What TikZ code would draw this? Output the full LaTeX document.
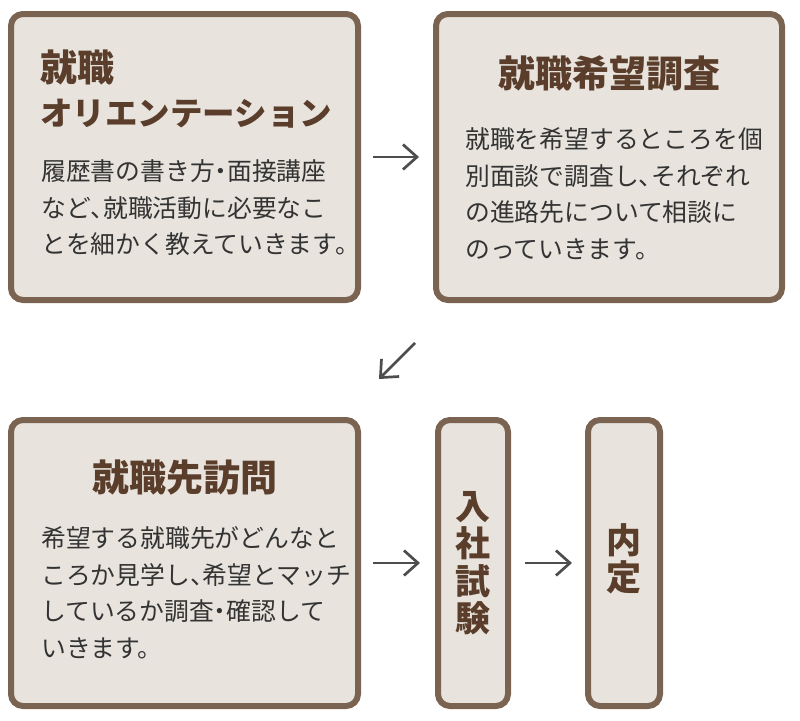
\documentclass[tikz,border=0pt]{standalone}
\usepackage{fontspec}
\setmainfont{Noto Sans CJK JP}
\newfontfamily\halffont[RawFeature=+halt]{Noto Sans CJK JP}
\newcommand\hw[1]{{\halffont #1}}
\usetikzlibrary{arrows.meta}
\definecolor{boxline}{HTML}{7A6350}
\definecolor{boxfill}{HTML}{E8E4DD}
\definecolor{titlebrown}{HTML}{5A3E2B}
\definecolor{bodygray}{HTML}{333333}
\definecolor{arrowgray}{HTML}{4D4D4D}

\begin{document}
\begin{tikzpicture}[x=1pt, y=-1pt,
  stepbox/.style={draw=boxline, fill=boxfill, line width=6pt, rounded corners=12pt, inner sep=0pt},
  titletext/.style={text=titlebrown, font=\fontsize{37}{45}\bfseries\selectfont, inner sep=0pt},
  bodytext/.style={text=bodygray, align=left, anchor=west, inner sep=0pt, font=\fontsize{24.8}{36.5}\selectfont},
  tatetext/.style={text=titlebrown, align=center, inner sep=0pt, font=\fontsize{35}{37.5}\bfseries\selectfont},
  flowarrow/.style={draw=arrowgray, line width=2.7pt, -{Straight Barb[length=14pt, width=25pt]}}]
  \useasboundingbox[fill=white] (0,0) rectangle (800,720);
  % boxes
  \node[stepbox, minimum width=347pt, minimum height=286pt] (orient) at (184.5,157) {};
  \node[stepbox, minimum width=346pt, minimum height=286pt] (survey) at (609,157) {};
  \node[stepbox, minimum width=347pt, minimum height=286pt] (visit)  at (184.5,563) {};
  \node[stepbox, minimum width=70pt,  minimum height=286pt] (exam)   at (473,563) {};
  \node[stepbox, minimum width=72pt,  minimum height=286pt] (naitei) at (624,563) {};
  % titles
  \node[titletext, anchor=west] (orienttitle) at (40,67) {就職};
  \node[titletext, anchor=west, font=\fontsize{32.5}{40}\bfseries\selectfont] (orienttitleb) at (40,114) {オリエンテーション};
  \node[titletext] (surveytitle) at (609,73) {就職希望調査};
  \node[titletext] (visittitle)  at (184.5,478) {就職先訪問};
  \node[tatetext] (examtext)   at (473,563) {入\\社\\試\\験};
  \node[tatetext] (naiteitext) at (624,559) {内\\定};
  % descriptions
  \node[bodytext] (orientbody) at (41,208) {履歴書の書き方\hw{・}面接講座\\など\hw{、}就職活動に必要なこ\\とを細かく教えていきます。};
  \node[bodytext] (surveybody) at (465,194) {就職を希望するところを個\\別面談で調査し\hw{、}それぞれ\\の進路先について相談に\\のっていきます。};
  \node[bodytext] (visitbody)  at (41,593) {希望する就職先がどんなと\\ころか見学し\hw{、}希望とマッチ\\しているか調査\hw{・}確認して\\いきます。};
  % arrows
  \draw[flowarrow] ([xshift=12pt]orient.east) -- ([xshift=-14pt]survey.west);
  \draw[flowarrow] ([shift={(-18,40)}]survey.south west) -- ([shift={(18,-38)}]visit.north east);
  \draw[flowarrow] ([xshift=12pt]visit.east) -- ([xshift=-15pt]exam.west);
  \draw[flowarrow] ([xshift=14pt]exam.east) -- ([xshift=-13pt]naitei.west);
\end{tikzpicture}
\end{document}
